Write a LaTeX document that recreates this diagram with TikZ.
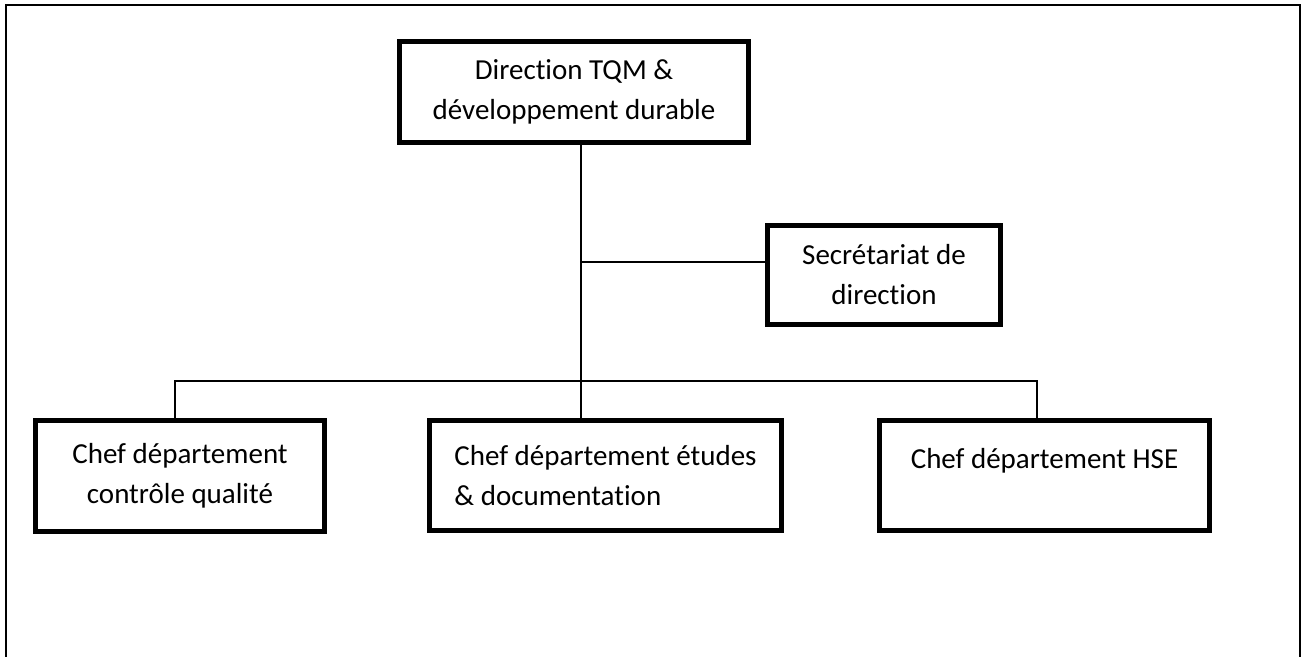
\documentclass[tikz,border=0pt]{standalone}
\usepackage{fontspec}
\setmainfont{Carlito}[Ligatures={NoCommon}]
\begin{document}
\begin{tikzpicture}[x=0.75pt,y=-0.75pt,
  orgbox/.style={draw=black, line width=3.75pt, fill=white, inner sep=0pt, align=center,
    font=\fontsize{21.75pt}{30pt}\selectfont},
  link/.style={draw=black, line width=1.5pt},
  frame/.style={draw=black, line width=1.5pt}]
\useasboundingbox (0,0) rectangle (1307,657);
\draw[frame] (6,657) |- (1299.5,5) -- (1299.5,657);

\node[orgbox, minimum width=261.75pt, minimum height=75.75pt] (top) at (574,92)
  {Direction TQM \&\\développement durable};
\node[orgbox, minimum width=174.75pt, minimum height=74.25pt] (sec) at (884,275)
  {Secrétariat de\\direction};
\node[orgbox, minimum width=216.75pt, minimum height=83.25pt] (cq) at (180,476)
  {Chef département\\contrôle qualité};
\node[orgbox, align=left, minimum width=264pt, minimum height=82.5pt] (etu) at (605.5,475.5)
  {Chef département études\\\& documentation};
\node[orgbox, minimum width=247.5pt, minimum height=82.5pt, text height=16pt, text depth=25.8pt] (hse) at (1044.5,475.5)
  {Chef département HSE};

\coordinate (trunk) at (581,0);
\coordinate (secjoin) at (0,262);
\coordinate (cqdrop) at (175,381);
\coordinate (hsedrop) at (1037,381);

\draw[link] (top.south -| trunk) -- (etu.north -| trunk);
\draw[link] (secjoin -| trunk) -- (secjoin -| sec.west);
\draw[link] (cq.north -| cqdrop) -- (cqdrop) -- (hsedrop) -- (hse.north -| hsedrop);
\end{tikzpicture}
\end{document}
